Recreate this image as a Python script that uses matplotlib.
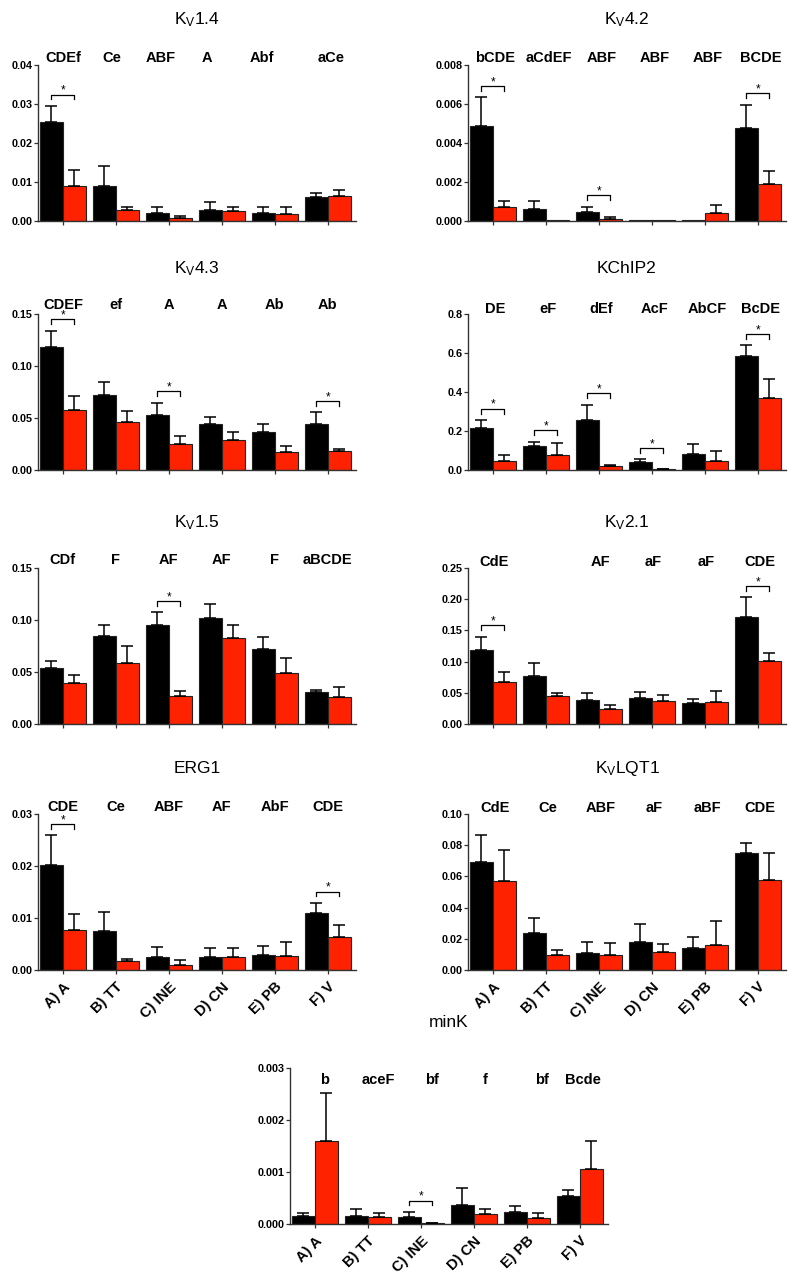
import matplotlib
matplotlib.use('Agg')
import matplotlib.pyplot as plt
import numpy as np
from matplotlib.transforms import blended_transform_factory

plt.rcParams['font.family'] = ['Liberation Sans', 'DejaVu Sans']
plt.rcParams['mathtext.fontset'] = 'custom'
plt.rcParams['mathtext.rm'] = 'Liberation Sans'
plt.rcParams['mathtext.it'] = 'Liberation Sans'
plt.rcParams['mathtext.default'] = 'regular'

# ---------------- data ----------------
groups = ["A) A", "B) TT", "C) INE", "D) CN", "E) PB", "F) V"]

kv14_title = r"K$_{V}$1.4"
kv14_letters = ["CDEf", "Ce", "ABF", "A", "Abf", "aCe"]
kv14_black = [0.0255, 0.0090, 0.0021, 0.0028, 0.0021, 0.0062]
kv14_black_err = [0.0040, 0.0051, 0.0016, 0.0021, 0.0014, 0.0011]
kv14_red = [0.0091, 0.0027, 0.0007, 0.0025, 0.0018, 0.0065]
kv14_red_err = [0.0039, 0.0009, 0.0005, 0.0010, 0.0017, 0.0015]
kv14_sig = [1, 0, 0, 0, 0, 0]

kv42_title = r"K$_{V}$4.2"
kv42_letters = ["bCDE", "aCdEF", "ABF", "ABF", "ABF", "BCDE"]
kv42_black = [0.00487, 0.00062, 0.00048, 0.00003, 0.00007, 0.00479]
kv42_black_err = [0.00147, 0.00042, 0.00026, 0.0, 0.0, 0.00118]
kv42_red = [0.00070, 0.00003, 0.00010, 0.00003, 0.00041, 0.00188]
kv42_red_err = [0.00031, 0.0, 0.00010, 0.0, 0.00043, 0.00070]
kv42_sig = [1, 0, 1, 0, 0, 1]

kv43_title = r"K$_{V}$4.3"
kv43_letters = ["CDEF", "ef", "A", "A", "Ab", "Ab"]
kv43_black = [0.1186, 0.0721, 0.0526, 0.0446, 0.0362, 0.0439]
kv43_black_err = [0.0154, 0.0122, 0.0121, 0.0060, 0.0077, 0.0115]
kv43_red = [0.0577, 0.0458, 0.0253, 0.0292, 0.0173, 0.0179]
kv43_red_err = [0.0138, 0.0113, 0.0071, 0.0077, 0.0055, 0.0020]
kv43_sig = [1, 0, 1, 0, 0, 1]

kchip2_title = "KChIP2"
kchip2_letters = ["DE", "eF", "dEf", "AcF", "AbCF", "BcDE"]
kchip2_black = [0.214, 0.125, 0.258, 0.039, 0.080, 0.586]
kchip2_black_err = [0.042, 0.020, 0.077, 0.016, 0.053, 0.053]
kchip2_red = [0.048, 0.075, 0.0205, 0.005, 0.048, 0.369]
kchip2_red_err = [0.029, 0.062, 0.0055, 0.002, 0.048, 0.096]
kchip2_sig = [1, 1, 1, 1, 0, 1]

kv15_title = r"K$_{V}$1.5"
kv15_letters = ["CDf", "F", "AF", "AF", "F", "aBCDE"]
kv15_black = [0.0535, 0.0844, 0.0955, 0.1022, 0.0723, 0.0306]
kv15_black_err = [0.0073, 0.0111, 0.0118, 0.0134, 0.0111, 0.0025]
kv15_red = [0.0395, 0.0586, 0.0274, 0.0831, 0.0494, 0.0258]
kv15_red_err = [0.0080, 0.0166, 0.0048, 0.0118, 0.0143, 0.0096]
kv15_sig = [0, 0, 1, 0, 0, 0]

kv21_title = r"K$_{V}$2.1"
kv21_letters = ["CdE", "", "AF", "aF", "aF", "CDE"]
kv21_black = [0.119, 0.0777, 0.0388, 0.0415, 0.0335, 0.1707]
kv21_black_err = [0.021, 0.0196, 0.0107, 0.009, 0.0059, 0.0325]
kv21_red = [0.067, 0.0447, 0.0245, 0.0362, 0.0351, 0.1005]
kv21_red_err = [0.0165, 0.0053, 0.0053, 0.0095, 0.0176, 0.0139]
kv21_sig = [1, 0, 0, 0, 0, 1]

erg1_title = "ERG1"
erg1_letters = ["CDE", "Ce", "ABF", "AF", "AbF", "CDE"]
erg1_black = [0.0201, 0.00756, 0.00256, 0.00244, 0.00282, 0.0109]
erg1_black_err = [0.0058, 0.00364, 0.0018, 0.00173, 0.00186, 0.0020]
erg1_red = [0.00776, 0.00167, 0.00096, 0.00256, 0.00276, 0.00635]
erg1_red_err = [0.00294, 0.00051, 0.0009, 0.00174, 0.00256, 0.00225]
erg1_sig = [1, 0, 0, 0, 0, 1]

kvlqt1_title = r"K$_{V}$LQT1"
kvlqt1_letters = ["CdE", "Ce", "ABF", "aF", "aBF", "CDE"]
kvlqt1_black = [0.069, 0.0237, 0.0109, 0.0179, 0.0139, 0.0752]
kvlqt1_black_err = [0.0173, 0.0094, 0.0070, 0.0118, 0.0070, 0.0064]
kvlqt1_red = [0.0573, 0.0096, 0.0094, 0.0118, 0.0162, 0.0577]
kvlqt1_red_err = [0.0194, 0.0030, 0.0077, 0.0049, 0.0150, 0.0171]
kvlqt1_sig = [0, 0, 0, 0, 0, 0]

mink_title = "minK"
mink_letters = ["b", "aceF", "bf", "f", "bf", "Bcde"]
mink_black = [0.000147, 0.000147, 0.000134, 0.000358, 0.000224, 0.00053]
mink_black_err = [0.00006, 0.00015, 0.00010, 0.00033, 0.00013, 0.00013]
mink_red = [0.0016, 0.000134, 0.00001, 0.000186, 0.00011, 0.00105]
mink_red_err = [0.00091, 0.00008, 0.00001, 0.00010, 0.00011, 0.00055]
mink_sig = [0, 0, 1, 0, 0, 0]

# ---------------- layout ----------------
W, H = 800, 1279
fig = plt.figure(figsize=(W / 100, H / 100), dpi=100)

AX_W, AX_H = 318, 156
BLACK = '#000000'
RED = '#FF2200'
EDGE = '#222222'
BW = 0.434

panels = [
    # title, letters, black, berr, red, rerr, sig, ymax, step, fmt, x0, ytop, xlabels, letter_y, letter_dx
    (kv14_title, kv14_letters, kv14_black, kv14_black_err, kv14_red, kv14_red_err, kv14_sig,
     0.04, 0.01, '%.2f', 38, 65, False, 1.045, [0.0, -0.08, -0.15, -0.29, -0.24, 0.07]),
    (kv42_title, kv42_letters, kv42_black, kv42_black_err, kv42_red, kv42_red_err, kv42_sig,
     0.008, 0.002, '%.3f', 468, 65, False, 1.045, [0.05] * 6),
    (kv43_title, kv43_letters, kv43_black, kv43_black_err, kv43_red, kv43_red_err, kv43_sig,
     0.15, 0.05, '%.2f', 38, 314, False, 1.06, [0.0] * 6),
    (kchip2_title, kchip2_letters, kchip2_black, kchip2_black_err, kchip2_red, kchip2_red_err, kchip2_sig,
     0.8, 0.2, '%.1f', 468, 314, False, 1.03, [0.04] * 6),
    (kv15_title, kv15_letters, kv15_black, kv15_black_err, kv15_red, kv15_red_err, kv15_sig,
     0.15, 0.05, '%.2f', 38, 568, False, 1.05, [0.0] * 6),
    (kv21_title, kv21_letters, kv21_black, kv21_black_err, kv21_red, kv21_red_err, kv21_sig,
     0.25, 0.05, '%.2f', 468, 568, False, 1.04, [0.03] * 6),
    (erg1_title, erg1_letters, erg1_black, erg1_black_err, erg1_red, erg1_red_err, erg1_sig,
     0.03, 0.01, '%.2f', 38, 814, True, 1.045, [0.0] * 6),
    (kvlqt1_title, kvlqt1_letters, kvlqt1_black, kvlqt1_black_err, kvlqt1_red, kvlqt1_red_err, kvlqt1_sig,
     0.10, 0.02, '%.2f', 468, 814, True, 1.04, [0.04] * 6),
    (mink_title, mink_letters, mink_black, mink_black_err, mink_red, mink_red_err, mink_sig,
     0.003, 0.001, '%.3f', 290, 1068, True, 0.923, [0.19, 0.19, 0.21, 0.21, 0.28, 0.06]),
]

for (title, letters, black, berr, red, rerr, sig, ymax, step, fmt, x0, ytop,
     xlabels, letter_y, letter_dx) in panels:
    ax = fig.add_axes([x0 / W, 1 - (ytop + AX_H) / H, AX_W / W, AX_H / H])
    x = np.arange(len(groups))
    black = np.asarray(black); red = np.asarray(red)
    berr = np.asarray(berr); rerr = np.asarray(rerr)

    ax.bar(x - BW / 2, black, BW, color=BLACK, edgecolor=EDGE, linewidth=0.8, zorder=2)
    ax.bar(x + BW / 2, red, BW, color=RED, edgecolor=EDGE, linewidth=0.8, zorder=2)
    for xs, m, e in ((x - BW / 2, black, berr), (x + BW / 2, red, rerr)):
        mask = e > 0
        ax.errorbar(xs[mask], m[mask], yerr=[np.zeros(mask.sum()), e[mask]], fmt='none',
                    ecolor='black', elinewidth=1.1, capsize=4.4, capthick=1.1, zorder=3)

    # significance brackets
    for i, s in enumerate(sig):
        if not s:
            continue
        top = max(black[i] + berr[i], red[i] + rerr[i])
        h = top + 0.072 * ymax
        t = 0.03 * ymax
        ax.plot([i - BW / 2, i - BW / 2, i + BW / 2, i + BW / 2], [h - t, h, h, h - t],
                color='black', lw=0.9, clip_on=False, zorder=4)
        ax.annotate('*', (i, h), xytext=(0, -1.5), textcoords='offset points',
                    ha='center', va='bottom', fontsize=8.5, annotation_clip=False)

    ax.set_xlim(-0.47, 5.53)
    ax.set_ylim(0, ymax)
    ticks = np.arange(0, ymax + step / 2, step)
    ax.set_yticks(ticks)
    ax.set_yticklabels([fmt % v for v in ticks], fontsize=7.8, fontweight='bold')
    ax.set_xticks(x)
    if xlabels:
        ax.set_xticklabels(groups, rotation=45, ha='right', rotation_mode='anchor',
                           fontsize=10.5, fontweight='bold')
    else:
        ax.set_xticklabels([])
    for sp in ('top', 'right'):
        ax.spines[sp].set_visible(False)
    for sp in ('left', 'bottom'):
        ax.spines[sp].set_linewidth(1.0)
        ax.spines[sp].set_color('#333333')
    ax.tick_params(axis='y', direction='out', length=3, width=0.9, color='#333333', pad=1.0)
    ax.tick_params(axis='x', direction='out', length=3, width=0.9, color='#333333', pad=4)

    trans = blended_transform_factory(ax.transData, ax.transAxes)
    for i, lab in enumerate(letters):
        ax.text(i + letter_dx[i], letter_y, lab, transform=trans, ha='center', va='center',
                fontsize=10.5, fontweight='bold', clip_on=False)
    ax.text(0.5, 1.29, title, transform=ax.transAxes, ha='center', va='center',
            fontsize=12.5, clip_on=False)

fig.savefig('out.png', dpi=100)
